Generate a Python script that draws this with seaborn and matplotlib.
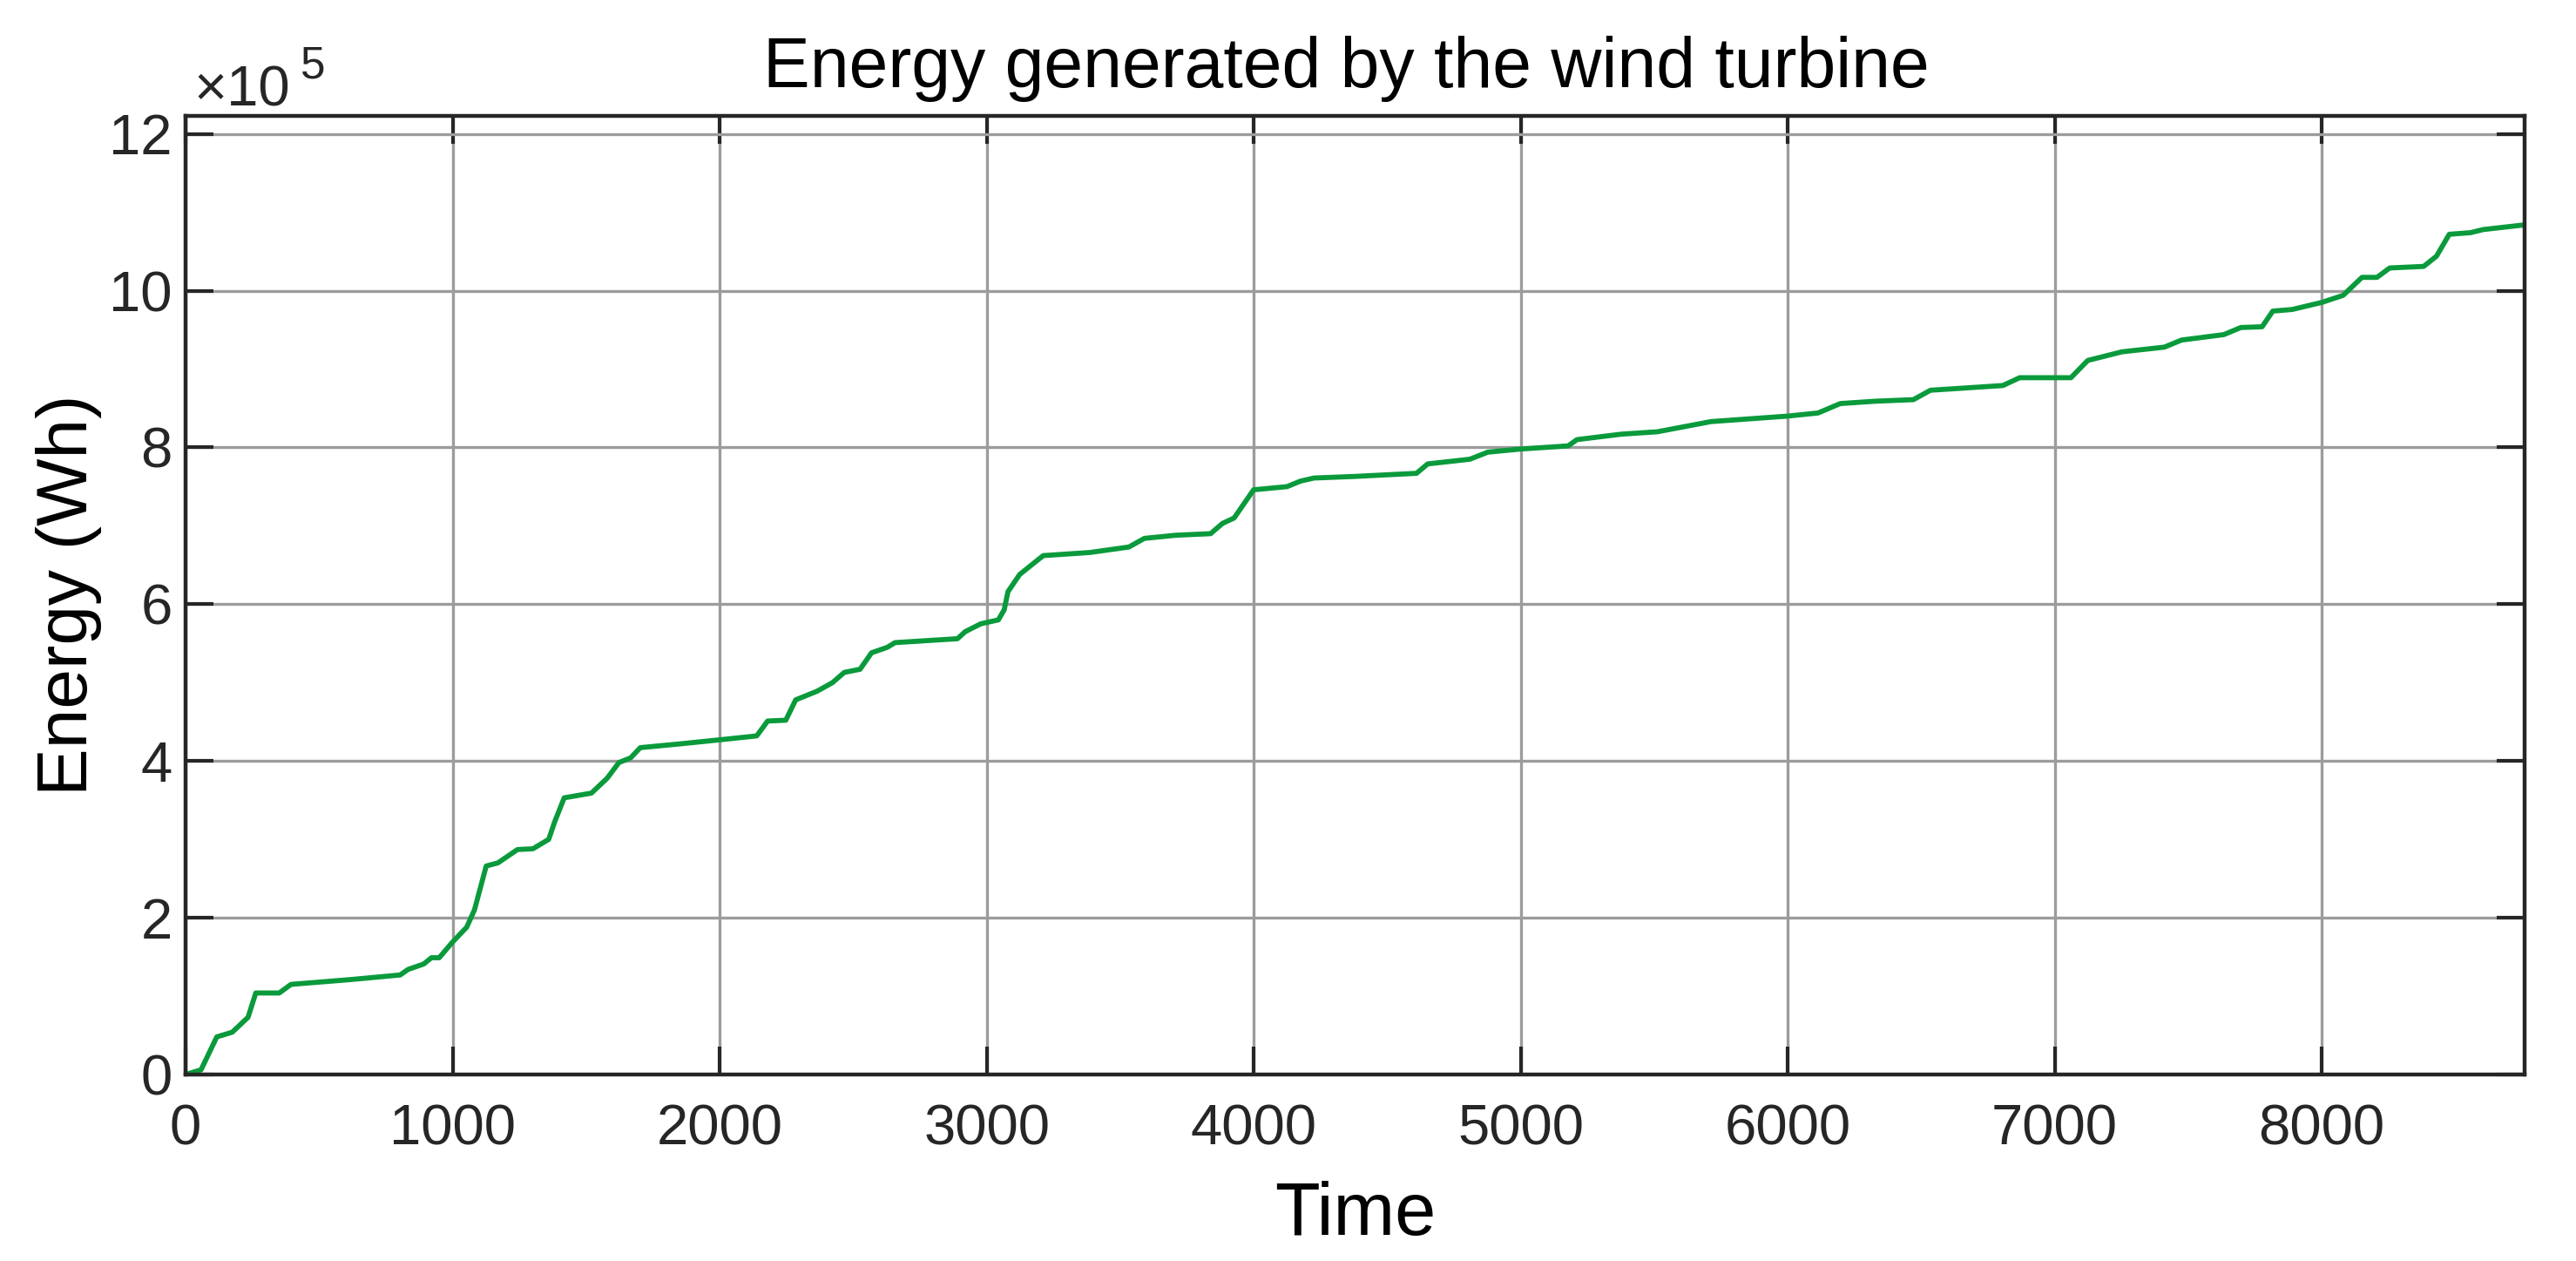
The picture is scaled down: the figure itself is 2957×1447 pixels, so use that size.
import matplotlib
matplotlib.use("Agg")
import matplotlib.pyplot as plt
import seaborn as sns
import pandas as pd
from matplotlib.ticker import FuncFormatter

# ---- data (energy in units of 1e5 Wh) ----
time_h = [0, 58, 117, 175, 234, 263, 351, 395, 614, 804, 833, 892, 921, 950,
          1000, 1053, 1082, 1126, 1170, 1243, 1301, 1360, 1382, 1418, 1520,
          1579, 1623, 1667, 1703, 1857, 2000, 2139, 2180, 2248, 2285, 2365,
          2423, 2467, 2526, 2569, 2628, 2657, 2891, 2920, 2978, 3044, 3066,
          3080, 3124, 3212, 3387, 3533, 3591, 3708, 3839, 3883, 3927, 4000,
          4125, 4175, 4226, 4376, 4610, 4652, 4810, 4877, 5000, 5178, 5211,
          5378, 5512, 5713, 6000, 6114, 6197, 6328, 6471, 6535, 6806, 6869,
          7061, 7124, 7252, 7411, 7475, 7634, 7697, 7777, 7817, 7889, 8000,
          8080, 8151, 8207, 8255, 8382, 8430, 8478, 8557, 8605, 8760]
energy_e5 = [0.00, 0.06, 0.48, 0.54, 0.73, 1.04, 1.04, 1.15, 1.21, 1.27, 1.34,
             1.41, 1.49, 1.49, 1.69, 1.88, 2.10, 2.66, 2.70, 2.87, 2.88, 3.00,
             3.22, 3.53, 3.59, 3.78, 3.98, 4.04, 4.17, 4.22, 4.27, 4.32, 4.51,
             4.52, 4.78, 4.89, 5.00, 5.13, 5.17, 5.38, 5.45, 5.51, 5.56, 5.65,
             5.75, 5.80, 5.93, 6.16, 6.38, 6.62, 6.66, 6.73, 6.84, 6.88, 6.90,
             7.03, 7.10, 7.46, 7.50, 7.57, 7.61, 7.63, 7.67, 7.79, 7.85, 7.94,
             7.98, 8.02, 8.10, 8.17, 8.20, 8.33, 8.40, 8.44, 8.56, 8.59, 8.61,
             8.73, 8.79, 8.89, 8.89, 9.11, 9.22, 9.28, 9.37, 9.44, 9.53, 9.54,
             9.74, 9.76, 9.85, 9.94, 10.17, 10.17, 10.29, 10.31, 10.44, 10.72,
             10.74, 10.78, 10.84]
x_ticks = [0, 1000, 2000, 3000, 4000, 5000, 6000, 7000, 8000]
y_ticks_e5 = [0, 2, 4, 6, 8, 10, 12]

title_text = "Energy generated by the wind turbine"
x_label = "Time"
y_label = "Energy (Wh)"

df = pd.DataFrame({"Time": time_h, "Energy": [v * 1e5 for v in energy_e5]})

sns.set_theme(style="white")
plt.rcParams["font.family"] = ["Liberation Sans", "DejaVu Sans"]

W, H = 2957, 1447
fig = plt.figure(figsize=(W / 100, H / 100), dpi=100)
fig.patch.set_facecolor("white")
ax = fig.add_axes([213 / W, 1 - 1233 / H, (2898 - 213) / W, (1233 - 133) / H])
ax.set_facecolor("white")

sns.lineplot(data=df, x="Time", y="Energy", ax=ax, color="#0a9a3c",
             linewidth=4.2, estimator=None, sort=True)

ax.set_xlim(0, 8760)
ax.set_ylim(0, 12.23e5)
ax.set_xticks(x_ticks)
ax.set_yticks([v * 1e5 for v in y_ticks_e5])
ax.yaxis.set_major_formatter(FuncFormatter(lambda v, p: f"{v / 1e5:g}"))
ax.xaxis.set_major_formatter(FuncFormatter(lambda v, p: f"{v:g}"))

ax.grid(True, color="#9c9c9c", linewidth=2.4, linestyle="-")
ax.set_axisbelow(True)
for s in ax.spines.values():
    s.set_visible(True)
    s.set_color("#262626")
    s.set_linewidth(3.2)

ax.tick_params(axis="both", which="major", direction="in", length=23, width=3,
               color="#262626", labelsize=47, labelcolor="#262626",
               top=True, right=True, bottom=True, left=True)
ax.tick_params(axis="x", pad=24)
ax.tick_params(axis="y", pad=11)

ax.set_xlabel(x_label, fontsize=61, color="black", va="baseline")
ax.xaxis.set_label_coords(0.5, (1233 - 1417) / 1100)
ax.set_ylabel(y_label, fontsize=59, color="black", va="baseline")
ax.yaxis.set_label_coords((100 - 213) / 2685, 0.5)

fig.text(1545 / W, 1 - 100 / H, title_text, fontsize=58, color="black",
         ha="center", va="baseline")

# exponent multiplier
fig.text(222 / W, 1 - 121 / H, "\u00d710", fontsize=47, color="#262626",
         ha="left", va="baseline")
fig.text(345 / W, 1 - 89 / H, "5", fontsize=37, color="#262626",
         ha="left", va="baseline")

fig.savefig("out.png", dpi=100, facecolor="white")
